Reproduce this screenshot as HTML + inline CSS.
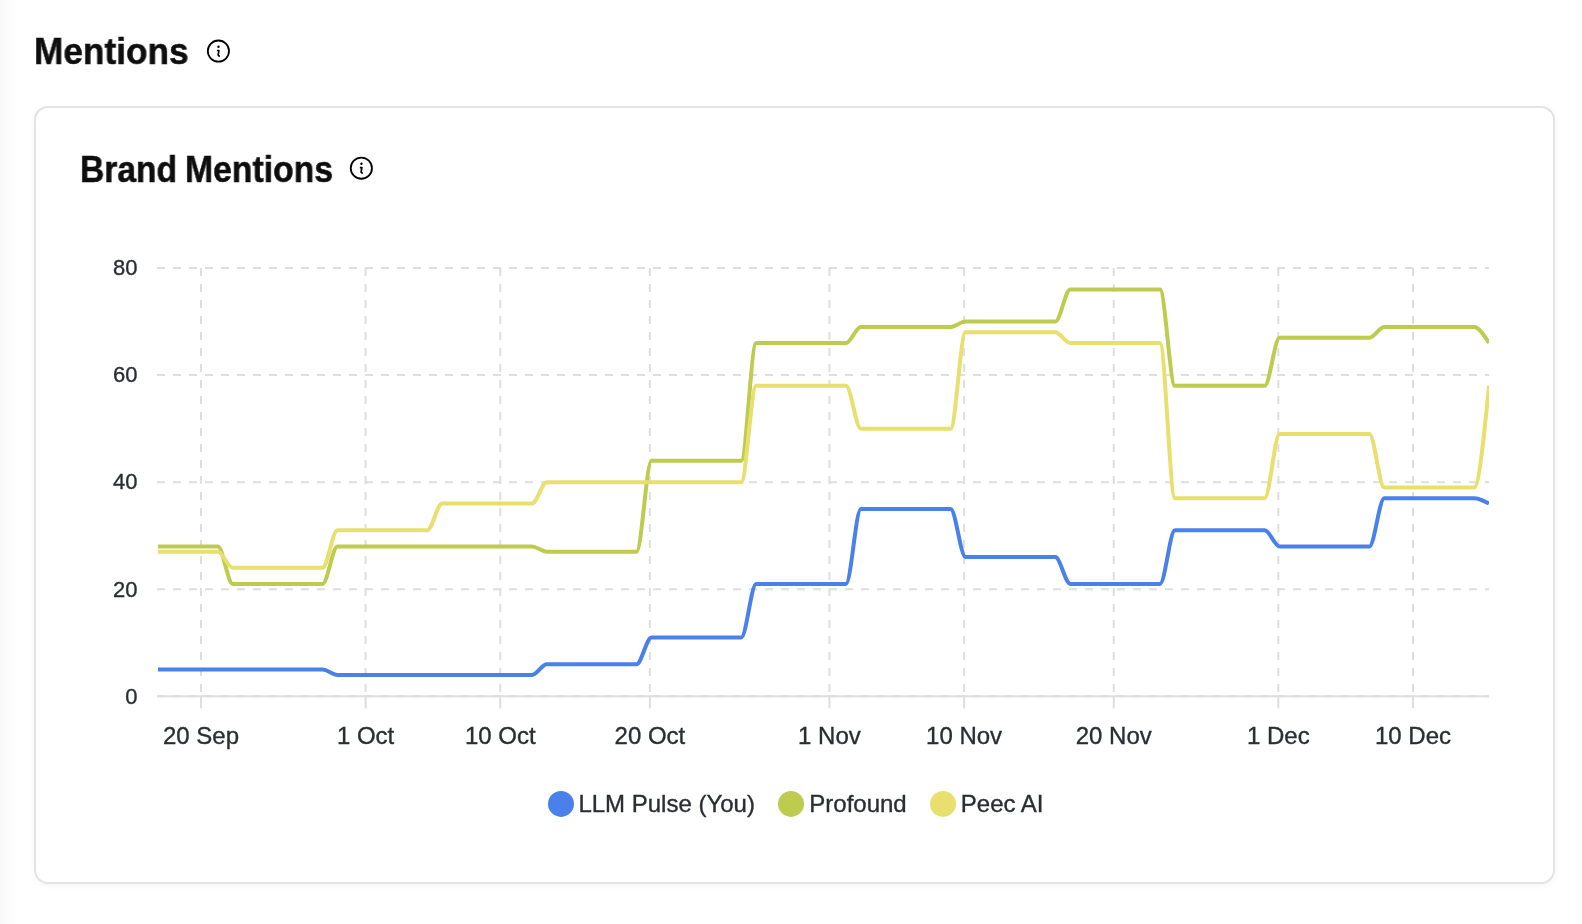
<!DOCTYPE html>
<html><head><meta charset="utf-8"><title>Mentions</title>
<style>
html,body{margin:0;padding:0;}
body{width:1582px;height:924px;position:relative;overflow:hidden;background:#fff;font-family:"Liberation Sans",sans-serif;}
.lstrip{position:absolute;left:0;top:0;width:16px;height:924px;background:linear-gradient(to right,#f8f8f8 0,#f8f8f8 2px,#fafafa 2px,#fafafa 5px,#fcfcfc 5px,#fcfcfc 8px,#fdfdfd 8px,#fefefe 16px);}
h1{will-change:transform;position:absolute;margin:0;font-weight:700;color:#0e0e0e;white-space:nowrap;line-height:1;font-size:36px;transform-origin:0 0;-webkit-text-stroke:0.5px #0e0e0e;}
.card{position:absolute;left:34px;top:106px;width:1517px;height:774px;border:2px solid #e3e3e3;border-radius:14px;background:#fff;box-shadow:0 2px 6px rgba(0,0,0,0.04);}
.chart{position:absolute;left:0;top:0;}
.tl{font-family:"Liberation Sans",sans-serif;font-size:22px;fill:#2a2e32;stroke:#2a2e32;stroke-width:0.35px;}
.xl{font-family:"Liberation Sans",sans-serif;font-size:24px;fill:#2a2e32;stroke:#2a2e32;stroke-width:0.35px;}
.lg{font-family:"Liberation Sans",sans-serif;font-size:24px;fill:#2a2e32;stroke:#2a2e32;stroke-width:0.35px;}
.ic{position:absolute;}
</style></head><body>
<div class="lstrip"></div>
<h1 class="t" style="left:34.3px;top:34.2px;transform:scaleX(0.9787)">Mentions</h1>
<svg class="ic" style="left:206px;top:39px" width="24" height="24" viewBox="-12.400000000000006 -12.100000000000001 24 24"><circle cx="0" cy="0" r="10.6" fill="none" stroke="#000" stroke-width="1.8"/><circle cx="0.1" cy="-4.4" r="1.2" fill="#000"/><path d="M-1.5,-0.6 L0.5,-0.6 L-0.2,3.6 Q-0.4,4.8 1.5,5.0" fill="none" stroke="#000" stroke-width="1.7" stroke-linejoin="round"/></svg>
<div class="card"></div>
<h1 class="t" style="left:79.8px;top:152.2px;transform:scaleX(0.933)">Brand</h1>
<h1 class="t" style="left:185.1px;top:152.2px;transform:scaleX(0.937)">Mentions</h1>
<svg class="ic" style="left:349px;top:156px" width="24" height="24" viewBox="-12.350000000000023 -12.150000000000006 24 24"><circle cx="0" cy="0" r="10.6" fill="none" stroke="#000" stroke-width="1.8"/><circle cx="0.1" cy="-4.4" r="1.2" fill="#000"/><path d="M-1.5,-0.6 L0.5,-0.6 L-0.2,3.6 Q-0.4,4.8 1.5,5.0" fill="none" stroke="#000" stroke-width="1.7" stroke-linejoin="round"/></svg>
<svg class="chart" style="will-change:transform" width="1582" height="924" viewBox="0 0 1582 924">
<defs><clipPath id="clip"><rect x="157" y="200" width="1332" height="520"/></clipPath></defs>
<line x1="157.0" y1="696.30" x2="1489.0" y2="696.30" stroke="#dedede" stroke-width="2" stroke-dasharray="8 8"/>
<line x1="157.0" y1="589.23" x2="1489.0" y2="589.23" stroke="#dedede" stroke-width="2" stroke-dasharray="8 8"/>
<line x1="157.0" y1="482.17" x2="1489.0" y2="482.17" stroke="#dedede" stroke-width="2" stroke-dasharray="8 8"/>
<line x1="157.0" y1="375.10" x2="1489.0" y2="375.10" stroke="#dedede" stroke-width="2" stroke-dasharray="8 8"/>
<line x1="157.0" y1="268.04" x2="1489.0" y2="268.04" stroke="#dedede" stroke-width="2" stroke-dasharray="8 8"/>
<line x1="201.00" y1="268.04" x2="201.00" y2="696.30" stroke="#dedede" stroke-width="2" stroke-dasharray="8 8"/>
<line x1="365.59" y1="268.04" x2="365.59" y2="696.30" stroke="#dedede" stroke-width="2" stroke-dasharray="8 8"/>
<line x1="500.26" y1="268.04" x2="500.26" y2="696.30" stroke="#dedede" stroke-width="2" stroke-dasharray="8 8"/>
<line x1="649.89" y1="268.04" x2="649.89" y2="696.30" stroke="#dedede" stroke-width="2" stroke-dasharray="8 8"/>
<line x1="829.44" y1="268.04" x2="829.44" y2="696.30" stroke="#dedede" stroke-width="2" stroke-dasharray="8 8"/>
<line x1="964.11" y1="268.04" x2="964.11" y2="696.30" stroke="#dedede" stroke-width="2" stroke-dasharray="8 8"/>
<line x1="1113.74" y1="268.04" x2="1113.74" y2="696.30" stroke="#dedede" stroke-width="2" stroke-dasharray="8 8"/>
<line x1="1278.33" y1="268.04" x2="1278.33" y2="696.30" stroke="#dedede" stroke-width="2" stroke-dasharray="8 8"/>
<line x1="1413.00" y1="268.04" x2="1413.00" y2="696.30" stroke="#dedede" stroke-width="2" stroke-dasharray="8 8"/>
<line x1="157.0" y1="696.30" x2="1489.0" y2="696.30" stroke="#dedede" stroke-width="2"/>
<line x1="201.00" y1="696.30" x2="201.00" y2="708.30" stroke="#dedede" stroke-width="2"/>
<line x1="365.59" y1="696.30" x2="365.59" y2="708.30" stroke="#dedede" stroke-width="2"/>
<line x1="500.26" y1="696.30" x2="500.26" y2="708.30" stroke="#dedede" stroke-width="2"/>
<line x1="649.89" y1="696.30" x2="649.89" y2="708.30" stroke="#dedede" stroke-width="2"/>
<line x1="829.44" y1="696.30" x2="829.44" y2="708.30" stroke="#dedede" stroke-width="2"/>
<line x1="964.11" y1="696.30" x2="964.11" y2="708.30" stroke="#dedede" stroke-width="2"/>
<line x1="1113.74" y1="696.30" x2="1113.74" y2="708.30" stroke="#dedede" stroke-width="2"/>
<line x1="1278.33" y1="696.30" x2="1278.33" y2="708.30" stroke="#dedede" stroke-width="2"/>
<line x1="1413.00" y1="696.30" x2="1413.00" y2="708.30" stroke="#dedede" stroke-width="2"/>
<text x="137.6" y="703.60" text-anchor="end" class="tl">0</text>
<text x="137.6" y="596.53" text-anchor="end" class="tl">20</text>
<text x="137.6" y="489.47" text-anchor="end" class="tl">40</text>
<text x="137.6" y="382.40" text-anchor="end" class="tl">60</text>
<text x="137.6" y="275.34" text-anchor="end" class="tl">80</text>
<text x="201.00" y="744" text-anchor="middle" class="xl">20 Sep</text>
<text x="365.59" y="744" text-anchor="middle" class="xl">1 Oct</text>
<text x="500.26" y="744" text-anchor="middle" class="xl">10 Oct</text>
<text x="649.89" y="744" text-anchor="middle" class="xl">20 Oct</text>
<text x="829.44" y="744" text-anchor="middle" class="xl">1 Nov</text>
<text x="964.11" y="744" text-anchor="middle" class="xl">10 Nov</text>
<text x="1113.74" y="744" text-anchor="middle" class="xl">20 Nov</text>
<text x="1278.33" y="744" text-anchor="middle" class="xl">1 Dec</text>
<text x="1413.00" y="744" text-anchor="middle" class="xl">10 Dec</text>
<g clip-path="url(#clip)" fill="none" stroke-width="4">
<path d="M158.00,669.53L172.96,669.53L187.91,669.53L202.87,669.53L217.82,669.53L232.78,669.53L247.73,669.53L262.69,669.53L277.64,669.53L292.60,669.53L307.55,669.53L322.51,669.53C327.49,669.53 332.48,674.89 337.46,674.89L352.42,674.89L367.37,674.89L382.33,674.89L397.28,674.89L412.24,674.89L427.19,674.89L442.15,674.89L457.10,674.89L472.06,674.89L487.01,674.89L501.97,674.89L516.92,674.89L531.88,674.89C536.86,674.89 541.85,664.18 546.83,664.18L561.79,664.18L576.74,664.18L591.70,664.18L606.65,664.18L621.61,664.18L636.56,664.18C641.55,664.18 646.53,637.41 651.52,637.41L666.47,637.41L681.43,637.41L696.38,637.41L711.34,637.41L726.29,637.41L741.25,637.41C746.23,637.41 751.22,583.88 756.20,583.88L771.16,583.88L786.11,583.88L801.07,583.88L816.02,583.88L830.98,583.88L845.93,583.88C850.92,583.88 855.90,508.93 860.89,508.93L875.84,508.93L890.80,508.93L905.75,508.93L920.71,508.93L935.66,508.93L950.62,508.93C955.60,508.93 960.59,557.11 965.57,557.11L980.53,557.11L995.48,557.11L1010.44,557.11L1025.39,557.11L1040.35,557.11L1055.30,557.11C1060.29,557.11 1065.27,583.88 1070.26,583.88L1085.21,583.88L1100.17,583.88L1115.12,583.88L1130.08,583.88L1145.03,583.88L1159.99,583.88C1164.97,583.88 1169.96,530.35 1174.94,530.35L1189.90,530.35L1204.85,530.35L1219.81,530.35L1234.76,530.35L1249.72,530.35L1264.67,530.35C1269.66,530.35 1274.64,546.41 1279.63,546.41L1294.58,546.41L1309.54,546.41L1324.49,546.41L1339.45,546.41L1354.40,546.41L1369.36,546.41C1374.34,546.41 1379.33,498.23 1384.31,498.23L1399.27,498.23L1414.22,498.23L1429.18,498.23L1444.13,498.23L1459.09,498.23L1474.04,498.23C1479.03,498.23 1484.01,500.90 1489.00,503.58" stroke="#4a80ea"/>
<path d="M158.00,546.41L172.96,546.41L187.91,546.41L202.87,546.41L217.82,546.41C222.81,546.41 227.79,583.88 232.78,583.88L247.73,583.88L262.69,583.88L277.64,583.88L292.60,583.88L307.55,583.88L322.51,583.88C327.49,583.88 332.48,546.41 337.46,546.41L352.42,546.41L367.37,546.41L382.33,546.41L397.28,546.41L412.24,546.41L427.19,546.41L442.15,546.41L457.10,546.41L472.06,546.41L487.01,546.41L501.97,546.41L516.92,546.41L531.88,546.41C536.86,546.41 541.85,551.76 546.83,551.76L561.79,551.76L576.74,551.76L591.70,551.76L606.65,551.76L621.61,551.76L636.56,551.76C641.55,551.76 646.53,460.75 651.52,460.75L666.47,460.75L681.43,460.75L696.38,460.75L711.34,460.75L726.29,460.75L741.25,460.75C746.23,460.75 751.22,342.98 756.20,342.98L771.16,342.98L786.11,342.98L801.07,342.98L816.02,342.98L830.98,342.98L845.93,342.98C850.92,342.98 855.90,326.92 860.89,326.92L875.84,326.92L890.80,326.92L905.75,326.92L920.71,326.92L935.66,326.92L950.62,326.92C955.60,326.92 960.59,321.57 965.57,321.57L980.53,321.57L995.48,321.57L1010.44,321.57L1025.39,321.57L1040.35,321.57L1055.30,321.57C1060.29,321.57 1065.27,289.45 1070.26,289.45L1085.21,289.45L1100.17,289.45L1115.12,289.45L1130.08,289.45L1145.03,289.45L1159.99,289.45C1164.97,289.45 1169.96,385.81 1174.94,385.81L1189.90,385.81L1204.85,385.81L1219.81,385.81L1234.76,385.81L1249.72,385.81L1264.67,385.81C1269.66,385.81 1274.64,337.63 1279.63,337.63L1294.58,337.63L1309.54,337.63L1324.49,337.63L1339.45,337.63L1354.40,337.63L1369.36,337.63C1374.34,337.63 1379.33,326.92 1384.31,326.92L1399.27,326.92L1414.22,326.92L1429.18,326.92L1444.13,326.92L1459.09,326.92L1474.04,326.92C1479.03,326.92 1484.01,334.95 1489.00,342.98" stroke="#bdcc4e"/>
<path d="M158.00,551.76L172.96,551.76L187.91,551.76L202.87,551.76L217.82,551.76C222.81,551.76 227.79,567.82 232.78,567.82L247.73,567.82L262.69,567.82L277.64,567.82L292.60,567.82L307.55,567.82L322.51,567.82C327.49,567.82 332.48,530.35 337.46,530.35L352.42,530.35L367.37,530.35L382.33,530.35L397.28,530.35L412.24,530.35L427.19,530.35C432.18,530.35 437.16,503.58 442.15,503.58L457.10,503.58L472.06,503.58L487.01,503.58L501.97,503.58L516.92,503.58L531.88,503.58C536.86,503.58 541.85,482.17 546.83,482.17L561.79,482.17L576.74,482.17L591.70,482.17L606.65,482.17L621.61,482.17L636.56,482.17L651.52,482.17L666.47,482.17L681.43,482.17L696.38,482.17L711.34,482.17L726.29,482.17L741.25,482.17C746.23,482.17 751.22,385.81 756.20,385.81L771.16,385.81L786.11,385.81L801.07,385.81L816.02,385.81L830.98,385.81L845.93,385.81C850.92,385.81 855.90,428.63 860.89,428.63L875.84,428.63L890.80,428.63L905.75,428.63L920.71,428.63L935.66,428.63L950.62,428.63C955.60,428.63 960.59,332.28 965.57,332.28L980.53,332.28L995.48,332.28L1010.44,332.28L1025.39,332.28L1040.35,332.28L1055.30,332.28C1060.29,332.28 1065.27,342.98 1070.26,342.98L1085.21,342.98L1100.17,342.98L1115.12,342.98L1130.08,342.98L1145.03,342.98L1159.99,342.98C1164.97,342.98 1169.96,498.23 1174.94,498.23L1189.90,498.23L1204.85,498.23L1219.81,498.23L1234.76,498.23L1249.72,498.23L1264.67,498.23C1269.66,498.23 1274.64,433.99 1279.63,433.99L1294.58,433.99L1309.54,433.99L1324.49,433.99L1339.45,433.99L1354.40,433.99L1369.36,433.99C1374.34,433.99 1379.33,487.52 1384.31,487.52L1399.27,487.52L1414.22,487.52L1429.18,487.52L1444.13,487.52L1459.09,487.52L1474.04,487.52C1479.03,487.52 1484.01,436.66 1489.00,385.81" stroke="#e8df6f"/>
</g>
<circle cx="561" cy="803.9" r="13" fill="#4a80ea"/>
<text x="578.4" y="812" class="lg">LLM Pulse (You)</text>
<circle cx="791" cy="803.9" r="13" fill="#bdcc4e"/>
<text x="809.3" y="812" class="lg">Profound</text>
<circle cx="943" cy="803.9" r="13" fill="#e8df6f"/>
<text x="960.8" y="812" class="lg">Peec AI</text>
</svg>
</body></html>
